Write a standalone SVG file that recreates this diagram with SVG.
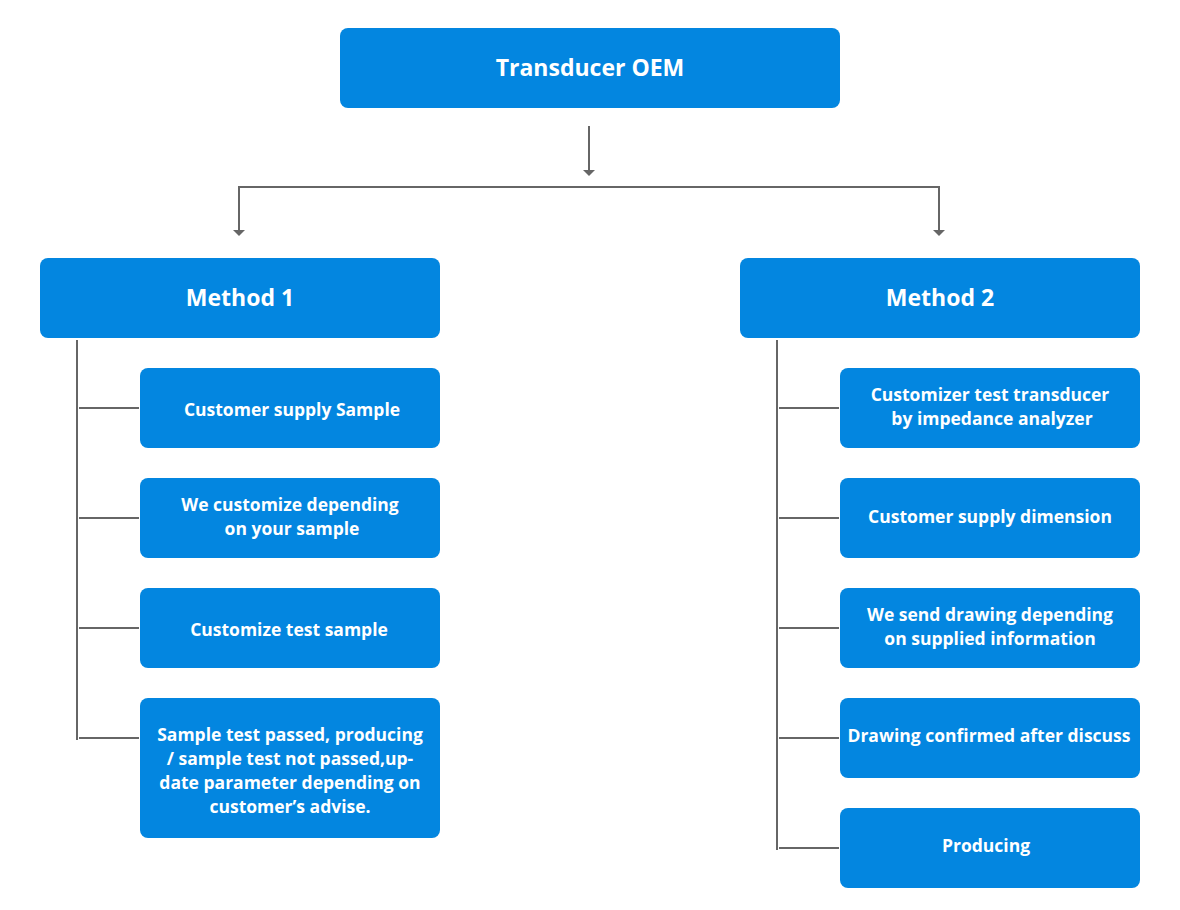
<svg xmlns="http://www.w3.org/2000/svg" width="1180" height="910" viewBox="0 0 1180 910">
<style>
.box{fill:#0386e0}
.t{fill:#fff;font-family:"Open Sans","Noto Sans","Liberation Sans",sans-serif;font-weight:bold;text-anchor:middle}
.h{font-size:23px}
.s{font-size:17.5px}
.ln{stroke:#666;stroke-width:2;fill:none}
.ah{fill:#666}
</style>
<rect width="1180" height="910" fill="#fff"/>
<g id="connectors">
<line class="ln" x1="589" y1="126" x2="589" y2="172"/>
<path class="ah" d="M583,170 L595,170 L589,176 Z"/>
<polyline class="ln" points="239,232 239,187 939,187 939,232"/>
<path class="ah" d="M233,230 L245,230 L239,236 Z"/>
<path class="ah" d="M933,230 L945,230 L939,236 Z"/>
<line class="ln" x1="77" y1="340" x2="77" y2="740"/>
<line class="ln" x1="79" y1="408" x2="139" y2="408"/>
<line class="ln" x1="79" y1="518" x2="139" y2="518"/>
<line class="ln" x1="79" y1="628" x2="139" y2="628"/>
<line class="ln" x1="79" y1="738" x2="139" y2="738"/>
<line class="ln" x1="777" y1="340" x2="777" y2="850"/>
<line class="ln" x1="779" y1="408" x2="839" y2="408"/>
<line class="ln" x1="779" y1="518" x2="839" y2="518"/>
<line class="ln" x1="779" y1="628" x2="839" y2="628"/>
<line class="ln" x1="779" y1="738" x2="839" y2="738"/>
<line class="ln" x1="779" y1="848" x2="839" y2="848"/>
</g>
<g id="root"><rect class="box" x="340" y="28" width="500" height="80" rx="8"/><text class="t h" x="590" y="76">Transducer OEM</text></g>
<g id="m1"><rect class="box" x="40" y="258" width="400" height="80" rx="8"/><text class="t h" x="240" y="306">Method 1</text></g>
<g id="m2"><rect class="box" x="740" y="258" width="400" height="80" rx="8"/><text class="t h" x="940" y="306">Method 2</text></g>
<g id="a1"><rect class="box" x="140" y="368" width="300" height="80" rx="8"/><text class="t s" x="292" y="416">Customer supply Sample</text></g>
<g id="a2"><rect class="box" x="140" y="478" width="300" height="80" rx="8"/><text class="t s" x="290" y="511">We customize depending</text><text class="t s" x="292" y="535">on your sample</text></g>
<g id="a3"><rect class="box" x="140" y="588" width="300" height="80" rx="8"/><text class="t s" x="289" y="636">Customize test sample</text></g>
<g id="a4"><rect class="box" x="140" y="698" width="300" height="140" rx="8"/><text class="t s" x="290" y="741">Sample test passed, producing</text><text class="t s" x="290" y="765">/ sample test not passed,up-</text><text class="t s" x="290" y="789">date parameter depending on</text><text class="t s" x="290" y="813">customer’s advise.</text></g>
<g id="b1"><rect class="box" x="840" y="368" width="300" height="80" rx="8"/><text class="t s" x="990" y="401">Customizer test transducer</text><text class="t s" x="992" y="425">by impedance analyzer</text></g>
<g id="b2"><rect class="box" x="840" y="478" width="300" height="80" rx="8"/><text class="t s" x="990" y="523">Customer supply dimension</text></g>
<g id="b3"><rect class="box" x="840" y="588" width="300" height="80" rx="8"/><text class="t s" x="990" y="621">We send drawing depending</text><text class="t s" x="990" y="645">on supplied information</text></g>
<g id="b4"><rect class="box" x="840" y="698" width="300" height="80" rx="8"/><text class="t s" x="989" y="742">Drawing confirmed after discuss</text></g>
<g id="b5"><rect class="box" x="840" y="808" width="300" height="80" rx="8"/><text class="t s" x="986" y="852">Producing</text></g>
</svg>
